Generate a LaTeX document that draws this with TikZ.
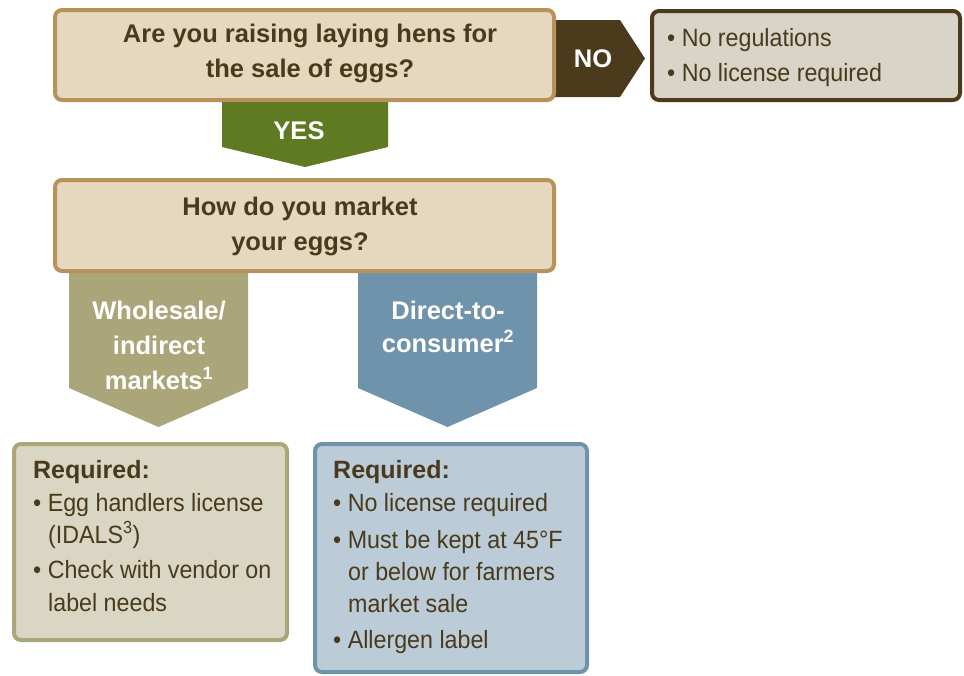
\documentclass[tikz,border=0pt]{standalone}
\usepackage{fontspec}
\setmainfont{Liberation Sans}
\newfontfamily\bodyfont{Liberation Sans}[FakeStretch=0.93]
\definecolor{txt}{HTML}{4A3A1C}
\definecolor{tanb}{HTML}{B8925A}
\definecolor{tanf}{HTML}{E6D7BF}
\definecolor{noc}{HTML}{4B3B1C}
\definecolor{nof}{HTML}{D8D4C8}
\definecolor{yesc}{HTML}{5E7B22}
\definecolor{olive}{HTML}{AAA67A}
\definecolor{olivef}{HTML}{D9D6C3}
\definecolor{blue}{HTML}{6F93AA}
\definecolor{bluef}{HTML}{BCCBD8}
\tikzset{
  head/.style={font=\fontsize{25.5}{30}\selectfont\bfseries, text=txt, inner sep=0pt, anchor=base},
  whead/.style={head, text=white},
  body/.style={font=\bodyfont\fontsize{25}{30}\selectfont, text=txt, inner sep=0pt, anchor=base west},
  bhead/.style={font=\fontsize{25}{30}\selectfont\bfseries, text=txt, inner sep=0pt, anchor=base west},
  boxbase/.style={line width=4pt, rounded corners=7pt, anchor=north west, inner sep=0pt, outer sep=0pt},
  qbox/.style={boxbase, draw=tanb, fill=tanf},
  nobox/.style={boxbase, draw=noc, fill=nof},
  obox/.style={boxbase, draw=olive, fill=olivef},
  bbox/.style={boxbase, draw=blue, fill=bluef},
}
\begin{document}
\begin{tikzpicture}[x=1pt, y=-1pt]
\useasboundingbox (0,0) rectangle (964,675);
% arrows (behind boxes)
\fill[noc] (540,20) -- (620,20) -- (645,58.5) -- (620,97) -- (540,97) -- cycle;
\fill[yesc] (222,95) -- (388,95) -- (388,147) -- (305,167) -- (222,147) -- cycle;
\fill[olive] (69,265) -- (248,265) -- (248,388) -- (158.5,427) -- (69,388) -- cycle;
\fill[blue] (358,265) -- (537,265) -- (537,388) -- (447.5,427) -- (358,388) -- cycle;
% boxes
\node[qbox, minimum width=499pt, minimum height=90pt] (q1) at (55,10) {};
\node[nobox, minimum width=308pt, minimum height=89pt] (res) at (652,11) {};
\node[qbox, minimum width=499pt, minimum height=91pt] (q2) at (55,180) {};
\node[obox, minimum width=273pt, minimum height=196pt] (wbox) at (14,444) {};
\node[bbox, minimum width=272pt, minimum height=228pt] (dbox) at (315,444) {};
% question texts
\node[head] (q1a) at (310,42) {Are you raising laying hens for};
\node[head] (q1b) at (310,77) {the sale of eggs?};
\node[head] (q2a) at (300,215) {How do you market};
\node[head] (q2b) at (300,250) {your eggs?};
% arrow labels
\node[whead] (no) at (593,67) {NO};
\node[whead] (yes) at (299,139) {YES};
\node[whead] (w1) at (159,319) {Wholesale/};
\node[whead] (w2) at (159,354) {indirect};
\node[whead] (w3) at (159,389) {markets\textsuperscript{1}};
\node[whead] (d1) at (448,319) {Direct-to-};
\node[whead] (d2) at (448,352) {consumer\textsuperscript{2}};
% no-branch text
\node[body] (r1) at (667,46) {•\ No regulations};
\node[body] (r2) at (667,81) {•\ No license required};
% wholesale box text
\node[bhead] (wh) at (33,478) {Required:};
\node[body] (wa) at (33,511) {•\ Egg handlers license};
\node[body] (wb) at (48,543) {(IDALS\textsuperscript{3})};
\node[body] (wc) at (33,578) {•\ Check with vendor on};
\node[body] (wd) at (48,611) {label needs};
% direct box text
\node[bhead] (dh) at (333,478) {Required:};
\node[body] (da) at (333,511) {•\ No license required};
\node[body] (db) at (333,548) {•\ Must be kept at 45°F};
\node[body] (dc) at (348,580) {or below for farmers};
\node[body] (dd) at (348,612) {market sale};
\node[body] (de) at (333,648) {•\ Allergen label};
\end{tikzpicture}
\end{document}
